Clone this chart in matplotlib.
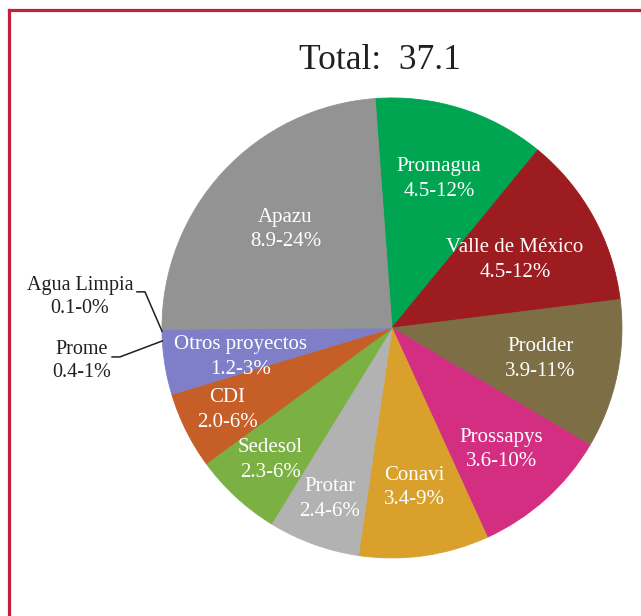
import matplotlib.pyplot as plt
import numpy as np
from matplotlib.lines import Line2D

# data
names = ["Promagua", "Valle de México", "Prodder", "Prossapys", "Conavi", "Protar",
         "Sedesol", "CDI", "Otros proyectos", "Prome", "Agua Limpia", "Apazu"]
values = [4.5, 4.5, 3.9, 3.6, 3.4, 2.4, 2.3, 2.0, 1.2, 0.4, 0.1, 8.9]
pcts = [12, 12, 11, 10, 9, 6, 6, 6, 3, 1, 0, 24]
total = 37.1

colors = ["#00a551", "#9d1c20", "#7d6e46", "#d42e83", "#d9a02b", "#b2b2b2",
          "#7bb043", "#c65e28", "#7f7fc9", "#7f7fc9", "#7f7fc9", "#939393"]
# radial position of the inside labels (None -> label outside)
lab_r = [0.68, 0.61, 0.66, 0.71, 0.70, 0.79, 0.78, 0.80, 0.67, None, None, 0.63]

font = "Liberation Serif"

fig = plt.figure(figsize=(6.41, 6.16), dpi=100)
ax = fig.add_axes([0.2527, 0.0942, 0.7176, 0.7468])

wedges, _ = ax.pie(values, colors=colors, startangle=94.2, counterclock=False)
for w in wedges:
    w.set_edgecolor(w.get_facecolor())
    w.set_linewidth(0.6)
ax.set_xlim(-1, 1)
ax.set_ylim(-1, 1)
ax.set_aspect("auto")
ax.axis("off")

for w, n, v, p, r in zip(wedges, names, values, pcts, lab_r):
    if r is None:
        continue
    a = np.deg2rad((w.theta1 + w.theta2) / 2)
    ax.text(r * np.cos(a), r * np.sin(a), "%s\n%.1f-%d%%" % (n, v, p),
            ha="center", va="center", color="white", fontsize=15, family=font,
            linespacing=1.4)

# outside labels for the tiny slices
outside = {"Agua Limpia": ((-1.357, 0.135), (-1.109, -1.074, 0.157)),
           "Prome": ((-1.348, -0.143), (-1.217, -1.183, -0.126))}
for w, n, v, p in zip(wedges, names, values, pcts):
    if n not in outside:
        continue
    (tx, ty), (k0, k1, ky) = outside[n]
    a = np.deg2rad((w.theta1 + w.theta2) / 2)
    ax.text(tx, ty, "%s\n%.1f-%d%%" % (n, v, p), ha="center", va="center",
            color="#231f20", fontsize=14.5, family=font, linespacing=1.3)
    ax.plot([k0, k1, np.cos(a)], [ky, ky, np.sin(a)], color="#231f20",
            lw=1.1, clip_on=False)

fig.text(0.593, 0.902, "Total:  37.1", ha="center", va="center",
         fontsize=25.5, family=font, color="#231f20")

# red frame (left and top)
fig.add_artist(Line2D([0.0148, 0.0148], [0, 0.983], color="#c41e3a", lw=2.3,
                      transform=fig.transFigure))
fig.add_artist(Line2D([0.0148, 1.0], [0.983, 0.983], color="#c41e3a", lw=2.3,
                      transform=fig.transFigure))

plt.savefig("out.png", dpi=100)
